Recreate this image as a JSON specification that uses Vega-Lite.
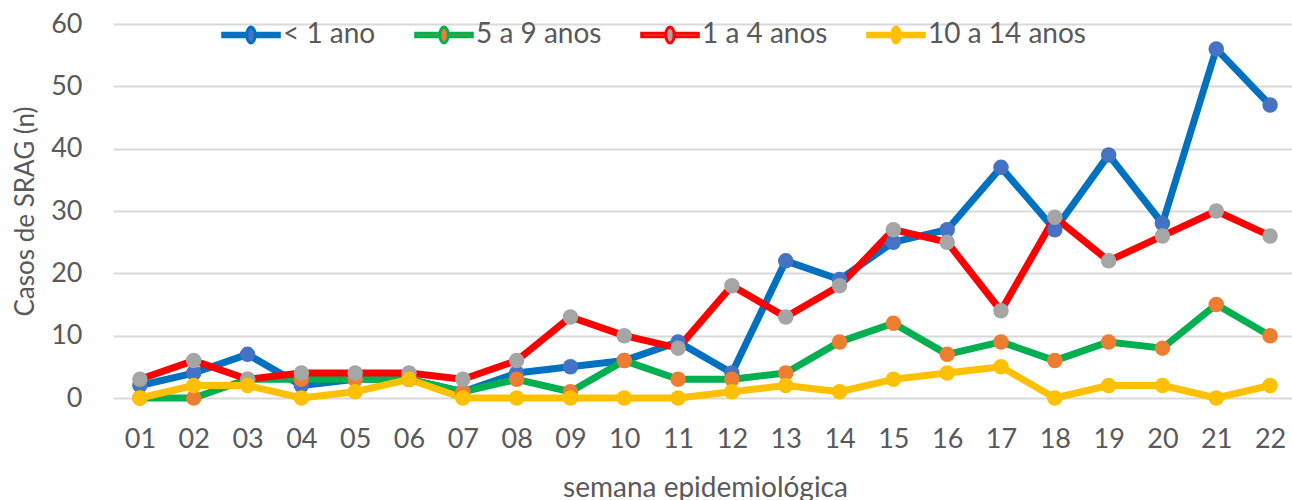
{
  "$schema": "https://vega.github.io/schema/vega-lite/v6.json",
  "autosize": {"type": "none"},
  "width": 1184,
  "height": 374,
  "padding": {"left": 113, "top": 24, "right": 0, "bottom": 102},
  "background": "white",
  "config": {
    "font": "Lato",
    "view": {"stroke": null},
    "axis": {"labelColor": "#595959", "titleColor": "#595959", "labelFont": "Lato", "titleFont": "Lato", "titleFontWeight": "normal"}
  },
  "datasets": {
    "d": [
      {"semana": "01", "serie": "< 1 ano", "casos": 2},
      {"semana": "02", "serie": "< 1 ano", "casos": 4},
      {"semana": "03", "serie": "< 1 ano", "casos": 7},
      {"semana": "04", "serie": "< 1 ano", "casos": 2},
      {"semana": "05", "serie": "< 1 ano", "casos": 3},
      {"semana": "06", "serie": "< 1 ano", "casos": 3},
      {"semana": "07", "serie": "< 1 ano", "casos": 1},
      {"semana": "08", "serie": "< 1 ano", "casos": 4},
      {"semana": "09", "serie": "< 1 ano", "casos": 5},
      {"semana": "10", "serie": "< 1 ano", "casos": 6},
      {"semana": "11", "serie": "< 1 ano", "casos": 9},
      {"semana": "12", "serie": "< 1 ano", "casos": 4},
      {"semana": "13", "serie": "< 1 ano", "casos": 22},
      {"semana": "14", "serie": "< 1 ano", "casos": 19},
      {"semana": "15", "serie": "< 1 ano", "casos": 25},
      {"semana": "16", "serie": "< 1 ano", "casos": 27},
      {"semana": "17", "serie": "< 1 ano", "casos": 37},
      {"semana": "18", "serie": "< 1 ano", "casos": 27},
      {"semana": "19", "serie": "< 1 ano", "casos": 39},
      {"semana": "20", "serie": "< 1 ano", "casos": 28},
      {"semana": "21", "serie": "< 1 ano", "casos": 56},
      {"semana": "22", "serie": "< 1 ano", "casos": 47},
      {"semana": "01", "serie": "5 a 9 anos", "casos": 0},
      {"semana": "02", "serie": "5 a 9 anos", "casos": 0},
      {"semana": "03", "serie": "5 a 9 anos", "casos": 3},
      {"semana": "04", "serie": "5 a 9 anos", "casos": 3},
      {"semana": "05", "serie": "5 a 9 anos", "casos": 3},
      {"semana": "06", "serie": "5 a 9 anos", "casos": 3},
      {"semana": "07", "serie": "5 a 9 anos", "casos": 1},
      {"semana": "08", "serie": "5 a 9 anos", "casos": 3},
      {"semana": "09", "serie": "5 a 9 anos", "casos": 1},
      {"semana": "10", "serie": "5 a 9 anos", "casos": 6},
      {"semana": "11", "serie": "5 a 9 anos", "casos": 3},
      {"semana": "12", "serie": "5 a 9 anos", "casos": 3},
      {"semana": "13", "serie": "5 a 9 anos", "casos": 4},
      {"semana": "14", "serie": "5 a 9 anos", "casos": 9},
      {"semana": "15", "serie": "5 a 9 anos", "casos": 12},
      {"semana": "16", "serie": "5 a 9 anos", "casos": 7},
      {"semana": "17", "serie": "5 a 9 anos", "casos": 9},
      {"semana": "18", "serie": "5 a 9 anos", "casos": 6},
      {"semana": "19", "serie": "5 a 9 anos", "casos": 9},
      {"semana": "20", "serie": "5 a 9 anos", "casos": 8},
      {"semana": "21", "serie": "5 a 9 anos", "casos": 15},
      {"semana": "22", "serie": "5 a 9 anos", "casos": 10},
      {"semana": "01", "serie": "1 a 4 anos", "casos": 3},
      {"semana": "02", "serie": "1 a 4 anos", "casos": 6},
      {"semana": "03", "serie": "1 a 4 anos", "casos": 3},
      {"semana": "04", "serie": "1 a 4 anos", "casos": 4},
      {"semana": "05", "serie": "1 a 4 anos", "casos": 4},
      {"semana": "06", "serie": "1 a 4 anos", "casos": 4},
      {"semana": "07", "serie": "1 a 4 anos", "casos": 3},
      {"semana": "08", "serie": "1 a 4 anos", "casos": 6},
      {"semana": "09", "serie": "1 a 4 anos", "casos": 13},
      {"semana": "10", "serie": "1 a 4 anos", "casos": 10},
      {"semana": "11", "serie": "1 a 4 anos", "casos": 8},
      {"semana": "12", "serie": "1 a 4 anos", "casos": 18},
      {"semana": "13", "serie": "1 a 4 anos", "casos": 13},
      {"semana": "14", "serie": "1 a 4 anos", "casos": 18},
      {"semana": "15", "serie": "1 a 4 anos", "casos": 27},
      {"semana": "16", "serie": "1 a 4 anos", "casos": 25},
      {"semana": "17", "serie": "1 a 4 anos", "casos": 14},
      {"semana": "18", "serie": "1 a 4 anos", "casos": 29},
      {"semana": "19", "serie": "1 a 4 anos", "casos": 22},
      {"semana": "20", "serie": "1 a 4 anos", "casos": 26},
      {"semana": "21", "serie": "1 a 4 anos", "casos": 30},
      {"semana": "22", "serie": "1 a 4 anos", "casos": 26},
      {"semana": "01", "serie": "10 a 14 anos", "casos": 0},
      {"semana": "02", "serie": "10 a 14 anos", "casos": 2},
      {"semana": "03", "serie": "10 a 14 anos", "casos": 2},
      {"semana": "04", "serie": "10 a 14 anos", "casos": 0},
      {"semana": "05", "serie": "10 a 14 anos", "casos": 1},
      {"semana": "06", "serie": "10 a 14 anos", "casos": 3},
      {"semana": "07", "serie": "10 a 14 anos", "casos": 0},
      {"semana": "08", "serie": "10 a 14 anos", "casos": 0},
      {"semana": "09", "serie": "10 a 14 anos", "casos": 0},
      {"semana": "10", "serie": "10 a 14 anos", "casos": 0},
      {"semana": "11", "serie": "10 a 14 anos", "casos": 0},
      {"semana": "12", "serie": "10 a 14 anos", "casos": 1},
      {"semana": "13", "serie": "10 a 14 anos", "casos": 2},
      {"semana": "14", "serie": "10 a 14 anos", "casos": 1},
      {"semana": "15", "serie": "10 a 14 anos", "casos": 3},
      {"semana": "16", "serie": "10 a 14 anos", "casos": 4},
      {"semana": "17", "serie": "10 a 14 anos", "casos": 5},
      {"semana": "18", "serie": "10 a 14 anos", "casos": 0},
      {"semana": "19", "serie": "10 a 14 anos", "casos": 2},
      {"semana": "20", "serie": "10 a 14 anos", "casos": 2},
      {"semana": "21", "serie": "10 a 14 anos", "casos": 0},
      {"semana": "22", "serie": "10 a 14 anos", "casos": 2}
    ]
  },
  "data": {"name": "d"},
  "encoding": {
    "x": {
      "field": "semana", "type": "ordinal",
      "scale": {"type": "point", "padding": 0.5},
      "axis": {
        "title": "semana epidemiológica", "labelAngle": 0, "ticks": false, "domain": false,
        "labelFontSize": 27, "labelPadding": 28, "titleFontSize": 28, "titlePadding": 22
      }
    },
    "y": {
      "field": "casos", "type": "quantitative",
      "scale": {"domain": [0, 60], "nice": false},
      "axis": {
        "title": "Casos de SRAG (n)", "values": [0, 10, 20, 30, 40, 50, 60], "ticks": false, "domain": false,
        "labelFontSize": 27, "labelPadding": 31, "titleFontSize": 26, "titlePadding": 12,
        "gridColor": "#D9D9D9", "gridWidth": 2
      }
    }
  },
  "layer": [
    {
      "mark": {"type": "line", "strokeWidth": 7, "strokeJoin": "round", "strokeCap": "round"},
      "encoding": {
        "stroke": {
          "field": "serie", "type": "nominal",
          "scale": {"domain": ["< 1 ano", "5 a 9 anos", "1 a 4 anos", "10 a 14 anos"], "range": ["#0070C0", "#00B050", "#FF0000", "#FFC000"]},
          "legend": {
            "title": null, "orient": "none", "direction": "horizontal", "legendX": 108, "legendY": -19,
            "symbolType": "M-1,-0.06H-0.15V0.06H-1Z M0.15,-0.06H1V0.06H0.15Z M0.15,0A0.15,0.28 0 1,1 -0.15,0A0.15,0.28 0 1,1 0.15,0Z",
            "symbolSize": 3200, "symbolStrokeWidth": 3, "symbolOpacity": 1,
            "labelFontSize": 28, "labelColor": "#595959", "labelOffset": 2, "columnPadding": 33, "labelFont": "Lato"
          }
        },
        "order": {"field": "semana"}
      }
    },
    {
      "mark": {"type": "point", "filled": true, "size": 240, "opacity": 1, "strokeWidth": 0},
      "encoding": {
        "fill": {
          "field": "serie", "type": "nominal",
          "scale": {"domain": ["< 1 ano", "5 a 9 anos", "1 a 4 anos", "10 a 14 anos"], "range": ["#4472C4", "#ED7D31", "#A5A5A5", "#FFC000"]},
          "legend": {
            "title": null, "orient": "none", "direction": "horizontal", "legendX": 108, "legendY": -19,
            "symbolType": "M-1,-0.06H-0.15V0.06H-1Z M0.15,-0.06H1V0.06H0.15Z M0.15,0A0.15,0.28 0 1,1 -0.15,0A0.15,0.28 0 1,1 0.15,0Z",
            "symbolSize": 3200, "symbolStrokeWidth": 3, "symbolOpacity": 1,
            "labelFontSize": 28, "labelColor": "#595959", "labelOffset": 2, "columnPadding": 33, "labelFont": "Lato"
          }
        }
      }
    }
  ]
}
